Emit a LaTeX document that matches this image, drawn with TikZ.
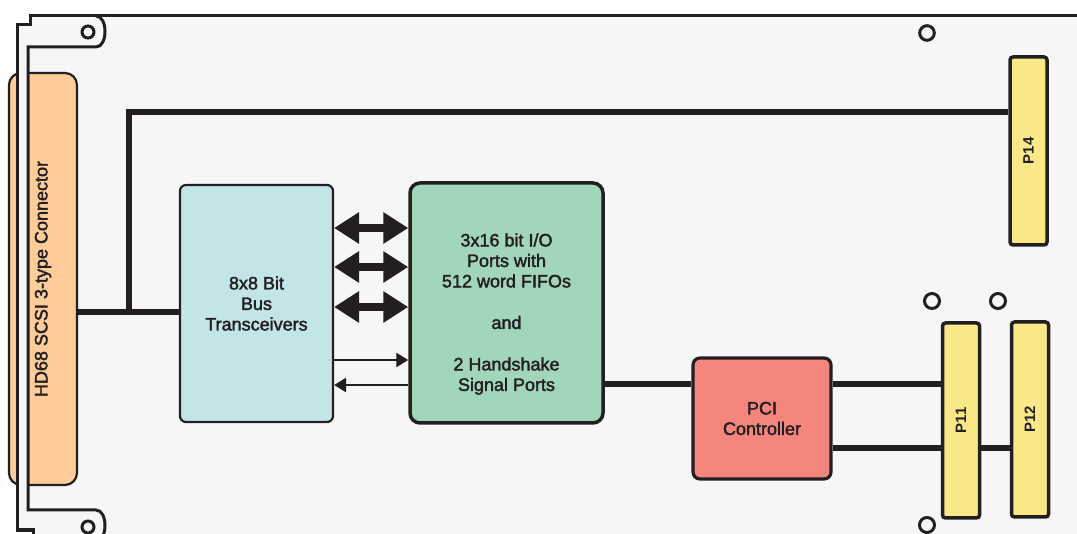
\documentclass[tikz,border=0pt]{standalone}
\usepackage{fontspec}
\setmainfont{Liberation Sans}
\newfontfamily\boardfont[FakeBold=2]{Liberation Sans}
\usetikzlibrary{arrows.meta}

\definecolor{ink}{HTML}{231F20}
\definecolor{boardgrey}{HTML}{F6F6F6}
\definecolor{scsiorange}{HTML}{FECC98}
\definecolor{buscyan}{HTML}{C2E6E7}
\definecolor{fifogreen}{HTML}{A1D6BB}
\definecolor{pcired}{HTML}{F4857C}
\definecolor{slotyellow}{HTML}{F9E887}

\begin{document}
\begin{tikzpicture}[x=1pt, y=-1pt,
    outline/.style={draw=ink, line width=3pt},
    wire/.style={draw=ink, line width=6pt},
    hole/.style={draw=ink, line width=3pt},
    blocktext/.style={text=ink, font=\boardfont\fontsize{18}{20.5}\selectfont, align=center},
    block/.style={draw=ink, line width=3pt, inner sep=0pt, blocktext},
    slot/.style={block, line width=3.5pt, fill=slotyellow, rounded corners=3pt, minimum width=37pt},
    slotname/.style={rotate=90, text=ink, font=\bfseries\fontsize{15}{15}\selectfont},
    bigarrow/.style={draw=ink, line width=8pt, {Triangle[length=25pt,width=30pt]}-{Triangle[length=25pt,width=30pt]}},
    thinarrow/.style={draw=ink, line width=2.6pt, -{Triangle[length=12pt,width=14pt]}}]
    \useasboundingbox (0,0) rectangle (1077,534);
    \clip (0,0) rectangle (1077,534);

    % board
    \fill[boardgrey] (30,16) -- (1090,16) -- (1090,545) -- (33,545) -- (33,530) -- (17,530) -- (17,25) -- (30,25) -- cycle;

    % SCSI connector, half hidden behind the front panel
    \node[block, line width=2.2pt, fill=scsiorange, rounded corners=12pt, minimum width=68pt, minimum height=412pt,
        label={[blocktext, rotate=90]center:HD68 SCSI 3-type Connector}] (scsi) at (43,279) {};

    % front panel with its two ears
    \fill[boardgrey] (17,25) rectangle (28,530);
    \draw[outline] (1090,16) -- (30,16) -- (30,25) -- (17,25) -- (17,530) -- (33,530) -- (33,545);
    \draw[outline] (96,16) .. controls (108,16) and (108,47) .. (96,47) -- (28,47) -- (28,510)
        -- (96,510) .. controls (108,510) and (108,541) .. (96,541);

    % mounting holes
    \draw[hole] (88,32) circle[radius=6];
    \draw[hole] (88,527) circle[radius=6];
    \draw[hole] (927,33) circle[radius=7.3];
    \draw[hole] (932,301) circle[radius=7.5];
    \draw[hole] (998,301) circle[radius=7.5];
    \draw[hole] (927,525) circle[radius=7.5];

    % function blocks
    \node[block, line width=2.2pt, fill=buscyan, rounded corners=6pt, minimum width=153pt, minimum height=237pt] (bus) at (256.5,303.5) {8x8 Bit\\Bus\\Transceivers};
    \node[block, line width=3.5pt, fill=fifogreen, rounded corners=10pt, minimum width=193pt, minimum height=240pt,
        label={[blocktext, yshift=-11pt]center:{3x16 bit I/O\\Ports with\\512 word FIFOs\\[21pt]and\\[21pt]2 Handshake\\Signal Ports}}] (io) at (506.5,303) {};
    \node[block, line width=3.2pt, fill=pcired, rounded corners=7pt, minimum width=138pt, minimum height=121pt] (pci) at (762,418.5) {PCI\\Controller};

    % backplane connectors
    \node[slot, minimum height=188pt, label={[slotname]center:P14}] (p14) at (1028.5,151) {};
    \node[slot, minimum height=195pt, label={[slotname]center:P11}] (p11) at (961,420.5) {};
    \node[slot, minimum height=195pt, label={[slotname]center:P12}] (p12) at (1030,419.5) {};

    % data paths between transceivers and ports
    \foreach \dy [count=\i] in {75.5,36.5,-3.5} {
        \coordinate (d\i) at ([yshift=\dy pt]bus.east);
        \draw[bigarrow] (d\i) -- (d\i -| io.west);
    }
    \coordinate (hs1) at ([yshift=-56.5pt]bus.east);
    \coordinate (hs2) at ([yshift=-81.5pt]bus.east);
    \draw[thinarrow] (hs1) -- (hs1 -| io.west);
    \draw[thinarrow] (hs2 -| io.west) -- (hs2);

    % wiring
    \coordinate (tap) at (129,312);
    \coordinate (bend) at (129,112);
    \draw[wire] (tap -| scsi.east) -- (tap -| bus.west);
    \draw[wire] (tap) -- (bend) -- (bend -| p14.west);
    \coordinate (pciA) at ([yshift=34pt]pci.west);
    \coordinate (pciB) at ([yshift=34pt]pci.east);
    \coordinate (pciC) at ([yshift=-30pt]pci.east);
    \draw[wire] (pciA -| io.east) -- (pciA);
    \draw[wire] (pciB) -- (pciB -| p11.west);
    \draw[wire] (pciC) -- (pciC -| p11.west);
    \draw[wire] (pciC -| p11.east) -- (pciC -| p12.west);
\end{tikzpicture}
\end{document}
